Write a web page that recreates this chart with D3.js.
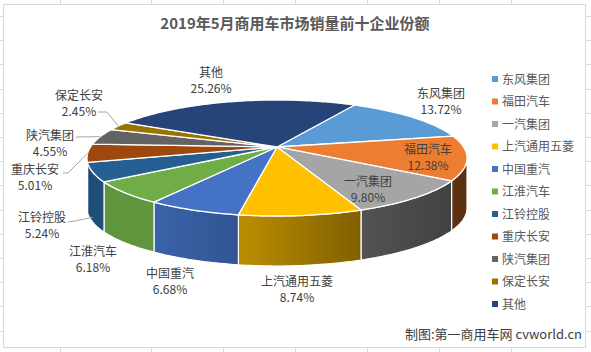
<!DOCTYPE html>
<html>
<head>
<meta charset="utf-8">
<script src="https://cdn.jsdelivr.net/npm/d3@7"></script>
<style>
  body { margin: 0; background: #fff; }
  text { font-family: "Noto Sans CJK SC", "Noto Sans", sans-serif; }
</style>
</head>
<body>
<svg id="chart" width="591" height="352"></svg>
<script>
// chart data
var companies = ['东风集团', '福田汽车', '一汽集团', '上汽通用五菱', '中国重汽', '江淮汽车',
    '江铃控股', '重庆长安', '陕汽集团', '保定长安', '其他'];
var shares = [13.72, 12.38, 9.80, 8.74, 6.68, 6.18, 5.24, 5.01, 4.55, 2.45, 25.26];
var colors = ['#5B9BD5', '#ED7D31', '#A5A5A5', '#FFC000', '#4472C4', '#70AD47',
    '#255E91', '#9E480E', '#636363', '#997300', '#264478'];

var title = '2019年5月商用车市场销量前十企业份额';
var footer = '制图:第一商用车网 cvworld.cn';

// label centres (two lines each), placed like the excel chart
var labelPos = [[441, 102], [428, 158], [368, 190], [297, 290], [170, 282], [93, 260],
    [42, 226], [35, 178], [50, 144], [79, 104], [211, 81]];

// leader lines: index -> start points, end snaps to the slice
var leaders = [
    {i: 6, pts: [[68, 222], [75, 221]], drop: 0.9},
    {i: 7, pts: [[63, 173], [68, 173]], drop: 0},
    {i: 8, pts: [[76, 137]], drop: 0},
    {i: 9, pts: [[98, 112], [107, 112]], drop: 0}
];

((d3) => {
    var svg = d3.select('#chart');
    var deg = Math.PI / 180;

    // pie geometry (perspective ellipse)
    var cx = 277, cy = 158, rx = 190, ry = 58, depth = 50, tilt = -0.19;

    function project(a, r, dz) {
        var u = r * Math.sin(a), v = -r * Math.cos(a);
        var k = 1 + tilt * v;
        return [cx + rx * u * Math.sqrt(1 - tilt * tilt) / k, cy + ry * (v + tilt) / k + (dz || 0)];
    }

    function arcPoints(a0, a1, dz) {
        var n = Math.max(2, Math.ceil(Math.abs(a1 - a0) / deg));
        return d3.range(n + 1).map(function (j) {
            return project(a0 + (a1 - a0) * j / n, 1, dz);
        });
    }

    var line = d3.line();

    // spreadsheet grid around the chart box
    var grid = svg.append('g').attr('stroke', '#d9d9d9').attr('stroke-width', 1);
    d3.range(16, 352, 24.2).forEach(function (y) {
        grid.append('line').attr('x1', 0).attr('x2', 3).attr('y1', Math.round(y) + 0.5).attr('y2', Math.round(y) + 0.5);
        grid.append('line').attr('x1', 586).attr('x2', 591).attr('y1', Math.round(y) + 0.5).attr('y2', Math.round(y) + 0.5);
    });
    [60, 151, 223, 295, 367, 439, 511].forEach(function (x) {
        grid.append('line').attr('x1', x + 0.5).attr('x2', x + 0.5).attr('y1', 0).attr('y2', 4);
        grid.append('line').attr('x1', x + 0.5).attr('x2', x + 0.5).attr('y1', 348).attr('y2', 352);
    });
    svg.append('rect')
        .attr('x', 3.5).attr('y', 4.5).attr('width', 582).attr('height', 343)
        .attr('fill', '#fff').attr('stroke', '#d9d9d9');

    var data = companies.map(function (c, i) {
        return {name: c, share: shares[i], color: colors[i]};
    });

    var start = 29 * deg;
    var pie = d3.pie().sort(null).value(function (d) { return d.share; })
        .startAngle(start).endAngle(start + 2 * Math.PI);
    var arcs = pie(data);

    // side shading by facing direction
    var shade = d3.scaleLinear()
        .domain([101, 123, 158, 190, 214, 236, 259].map(function (d) { return d * deg; }))
        .range([0.38, 0.40, 0.5, 0.74, 0.87, 0.85, 0.8])
        .clamp(true);

    function scaled(c, f) {
        var rgb = d3.rgb(c);
        return d3.rgb(rgb.r * f, rgb.g * f, rgb.b * f).formatHex();
    }

    var defs = svg.append('defs');
    var front0 = Math.acos(tilt), front1 = 2 * Math.PI - Math.acos(tilt);
    var sides = svg.append('g');

    arcs.forEach(function (d, i) {
        [0, 2 * Math.PI].forEach(function (off) {
            var lo = Math.max(d.startAngle, front0 + off);
            var hi = Math.min(d.endAngle, front1 + off);
            if (hi <= lo) return;
            var top = arcPoints(lo, hi, 0);
            var bottom = arcPoints(hi, lo, depth);
            var id = 'side' + i + '_' + off.toFixed(0);
            var g = defs.append('linearGradient').attr('id', id)
                .attr('gradientUnits', 'userSpaceOnUse')
                .attr('x1', top[top.length - 1][0]).attr('x2', top[0][0])
                .attr('y1', 0).attr('y2', 0);
            g.append('stop').attr('offset', 0).attr('stop-color', scaled(d.data.color, shade(hi - off)));
            g.append('stop').attr('offset', 1).attr('stop-color', scaled(d.data.color, shade(lo - off)));
            sides.append('path')
                .attr('d', line(top.concat(bottom)) + 'Z')
                .attr('fill', 'url(#' + id + ')')
                .attr('stroke', '#fff')
                .attr('stroke-width', 1.2)
                .attr('stroke-linejoin', 'round');
        });
    });

    // top faces
    svg.append('g').selectAll('path')
        .data(arcs)
        .enter()
        .append('path')
        .attr('d', function (d) {
            return line([project(0, 0)].concat(arcPoints(d.startAngle, d.endAngle, 0))) + 'Z';
        })
        .attr('fill', function (d) { return d.data.color; })
        .attr('stroke', '#fff')
        .attr('stroke-width', 1.3)
        .attr('stroke-linejoin', 'round');

    // leader lines
    leaders.forEach(function (l) {
        var d = arcs[l.i];
        var end = project((d.startAngle + d.endAngle) / 2, 1, l.drop * depth);
        svg.append('path')
            .attr('d', line(l.pts.concat([end])))
            .attr('fill', 'none')
            .attr('stroke', '#a6a6a6')
            .attr('stroke-width', 1);
    });

    // data labels
    svg.append('g').selectAll('text')
        .data(arcs)
        .enter()
        .append('text')
        .attr('text-anchor', 'middle')
        .attr('font-size', 12)
        .attr('fill', '#404040')
        .each(function (d, i) {
            var t = d3.select(this);
            var p = labelPos[i];
            t.append('tspan').attr('x', p[0]).attr('y', p[1] - 4).text(d.data.name);
            t.append('tspan').attr('x', p[0]).attr('y', p[1] + 12).text(d.data.share.toFixed(2) + '%');
        });

    // legend
    var legend = svg.append('g').selectAll('g')
        .data(data)
        .enter()
        .append('g')
        .attr('transform', function (d, i) { return 'translate(492,' + (79 + i * 22.5) + ')'; });
    legend.append('rect')
        .attr('x', 0).attr('y', -3).attr('width', 6).attr('height', 6)
        .attr('fill', function (d) { return d.color; });
    legend.append('text')
        .attr('x', 10).attr('y', 4.5)
        .attr('font-size', 12)
        .attr('fill', '#595959')
        .text(function (d) { return d.name; });

    svg.append('text')
        .attr('x', 295).attr('y', 29)
        .attr('text-anchor', 'middle')
        .attr('font-size', 15)
        .attr('font-weight', 'bold')
        .attr('fill', '#595959')
        .text(title);

    svg.append('text')
        .attr('x', 582).attr('y', 339)
        .attr('text-anchor', 'end')
        .attr('font-size', 13)
        .attr('fill', '#404040')
        .text(footer);
})(window.d3);
</script>
</body>
</html>
